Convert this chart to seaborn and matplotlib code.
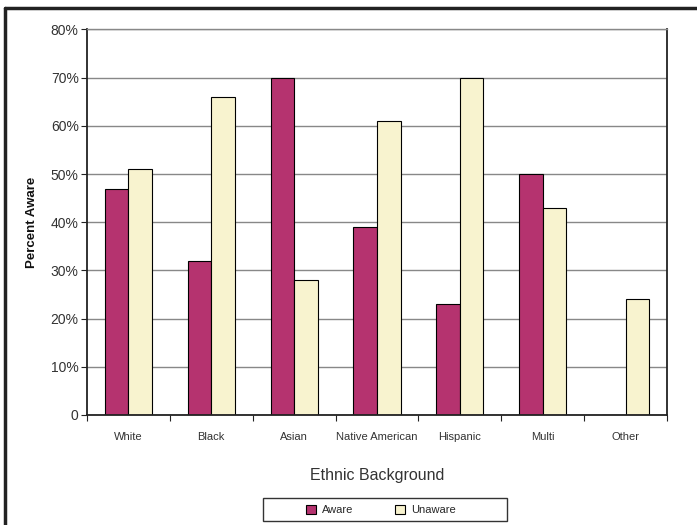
import matplotlib
matplotlib.use("Agg")
import matplotlib.pyplot as plt
import numpy as np
import pandas as pd
import seaborn as sns
from matplotlib.lines import Line2D
from matplotlib.patches import Rectangle
from matplotlib.ticker import FixedLocator

# -- Donnees ---------------------------------------------------------------
groups = ["White", "Black", "Asian", "Native American", "Hispanic", "Multi", "Other"]
aware = [47, 32, 70, 39, 23, 50, 0]
unaware = [51, 66, 28, 61, 70, 43, 24]
series = ["Aware", "Unaware"]
y_ticks = [0, 10, 20, 30, 40, 50, 60, 70, 80]
y_labels = ["0", "10%", "20%", "30%", "40%", "50%", "60%", "70%", "80%"]

df = pd.DataFrame({
    "Ethnic Background": groups * 2,
    "Percent": aware + unaware,
    "Status": ["Aware"] * len(groups) + ["Unaware"] * len(groups),
})

sns.set_style("white")
plt.rcParams["font.family"] = ["Liberation Sans", "DejaVu Sans"]

W, H = 697, 525
fig = plt.figure(figsize=(W / 100, H / 100), dpi=100)
ax = fig.add_axes([87 / W, 110 / H, 580 / W, 385.5 / H])

palette = {"Aware": "#B5336F", "Unaware": "#F8F3CF"}
sns.barplot(
    data=df, x="Ethnic Background", y="Percent", hue="Status",
    palette=palette, width=0.57, edgecolor="black", linewidth=0.8,
    saturation=1, ax=ax, legend=False,
)

ax.set_ylim(0, 80)
ax.set_xlim(-0.5, len(groups) - 0.5)
ax.set_yticks(y_ticks)
ax.set_yticklabels(y_labels, fontsize=10, color="#333333")
ax.yaxis.grid(True, color="#888888", linewidth=1)
ax.set_axisbelow(True)
ax.tick_params(axis="y", length=4, width=0.8, color="#222222", pad=2, left=True)

ax.set_xticks(range(len(groups)))
ax.set_xticklabels(groups, fontsize=8, color="#333333")
ax.tick_params(axis="x", which="major", length=0, pad=12)
ax.xaxis.set_minor_locator(FixedLocator(np.arange(-0.5, len(groups), 1.0)))
ax.tick_params(axis="x", which="minor", length=4, width=0.8, color="#222222", bottom=True)

for side in ["left", "bottom", "right"]:
    ax.spines[side].set_color("#222222")
    ax.spines[side].set_linewidth(1.3)
ax.spines["top"].set_color("#888888")
ax.spines["top"].set_linewidth(1)

ax.set_xlabel("Ethnic Background", fontsize=11.5, color="#333333", labelpad=19)
ax.set_ylabel("Percent Aware", fontsize=9.5, fontweight="bold", color="#111111", labelpad=9)

# Legende (sans cadre, cadre dessine a part)
handles = [plt.Rectangle((0, 0), 1, 1, facecolor=palette[s], edgecolor="black", linewidth=0.8)
           for s in series]
fig.legend(
    handles, series, loc="center", bbox_to_anchor=(381 / W, 1 - 510 / H),
    ncol=2, frameon=False, fontsize=8, handlelength=0.9,
    handleheight=0.9, columnspacing=3.8, handletextpad=0.5,
)
fig.add_artist(Rectangle((263 / W, 1 - 521 / H), 244 / W, 23 / H, transform=fig.transFigure,
                         facecolor="none", edgecolor="#333333", linewidth=1))

# Cadre exterieur (gauche et haut)
fig.add_artist(Line2D([5 / W, 5 / W], [0, 1 - 8 / H], color="#222222", linewidth=2.5,
                      transform=fig.transFigure))
fig.add_artist(Line2D([5 / W, 1], [1 - 8 / H, 1 - 8 / H], color="#222222", linewidth=2.5,
                      transform=fig.transFigure))

fig.savefig("out.png", dpi=100)
